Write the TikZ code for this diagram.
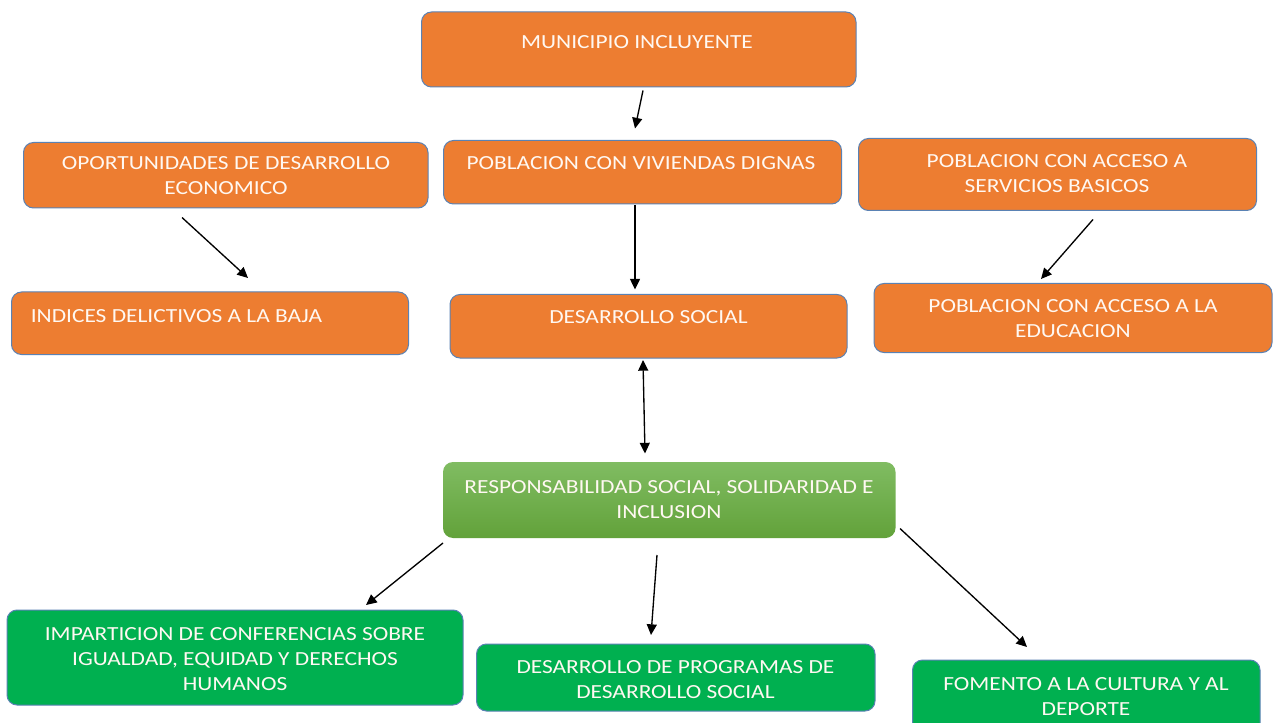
\documentclass[tikz,border=0pt]{standalone}
\usepackage{fontspec}
\setmainfont{Carlito}[FakeStretch=1.17]
\usetikzlibrary{arrows.meta,fit}
\definecolor{orng}{HTML}{ED7D31}
\definecolor{grn}{HTML}{00B050}
\definecolor{gtop}{HTML}{80BC62}
\definecolor{gbot}{HTML}{62A23A}
\definecolor{boxline}{HTML}{5A82B4}
\definecolor{txt}{HTML}{FFF8F2}
\tikzset{
  boxbase/.style={draw=boxline, line width=0.75pt, rounded corners=7.5pt, inner sep=0pt},
  obox/.style={boxbase, fill=orng},
  gbox/.style={boxbase, fill=grn},
  mbox/.style={rounded corners=7.5pt, inner sep=0pt, top color=gtop, bottom color=gbot, draw=none},
  lbl/.style={text=txt, font=\fontsize{15}{18.7}\selectfont, align=center, inner sep=0pt, anchor=north},
  arr/.style={-{Triangle[length=8pt,width=7.5pt]}, line width=1pt, black},
  darr/.style={{Triangle[length=8pt,width=7.5pt]}-{Triangle[length=8pt,width=7.5pt]}, line width=1pt, black}
}
\begin{document}
\begin{tikzpicture}[x=0.75pt,y=-0.75pt]
\clip (0,0) rectangle (1273,723);
\fill[white] (0,0) rectangle (1273,723);
% boxes
\node[obox, fit={(421.5,12)(856,87)}] (mun) {};
\node[obox, fit={(23.5,142.5)(428,208)}] (opo) {};
\node[obox, fit={(443.5,140.5)(841.5,204)}] (viv) {};
\node[obox, fit={(858.5,138.5)(1256.5,210.5)}] (ser) {};
\node[obox, fit={(11.5,292)(408.5,354.5)}] (ind) {};
\node[obox, fit={(450,294.5)(847,358)}] (des) {};
\node[obox, fit={(874,283.5)(1272,352.5)}] (edu) {};
\node[mbox, fit={(443,462)(895.5,538)}] (res) {};
\node[gbox, fit={(7,610)(463,705)}] (imp) {};
\node[gbox, fit={(476.5,644)(875,711)}] (pro) {};
\node[gbox, fit={(912.5,660)(1260,740)}] (fom) {};
% labels
\node[lbl] (mun-t) at (637,35) {MUNICIPIO INCLUYENTE};
\node[lbl] (opo-t) at (226,156.5) {OPORTUNIDADES DE DESARROLLO\\ECONOMICO};
\node[lbl] (viv-t) at (641,156.5) {POBLACION CON VIVIENDAS DIGNAS};
\node[lbl] (ser-t) at (1057,154) {POBLACION CON ACCESO A\\SERVICIOS BASICOS};
\node[lbl, anchor=north west] (ind-t) at (30.5,309) {INDICES DELICTIVOS A LA BAJA};
\node[lbl] (des-t) at (648.5,310.5) {DESARROLLO SOCIAL};
\node[lbl] (edu-t) at (1073,299) {POBLACION CON ACCESO A LA\\EDUCACION};
\node[lbl] (res-t) at (669,480) {RESPONSABILIDAD SOCIAL, SOLIDARIDAD E\\INCLUSION};
\node[lbl] (imp-t) at (235,627.5) {IMPARTICION DE CONFERENCIAS SOBRE\\IGUALDAD, EQUIDAD Y DERECHOS\\HUMANOS};
\node[lbl] (pro-t) at (675.5,660) {DESARROLLO DE PROGRAMAS DE\\DESARROLLO SOCIAL};
\node[lbl] (fom-t) at (1086,677.5) {FOMENTO A LA CULTURA Y AL\\DEPORTE};
% connector ends
\coordinate (a1s) at (643,90.5);  \coordinate (a1e) at (635,128.5);
\coordinate (a2s) at (182,217.5); \coordinate (a2e) at (248,278);
\coordinate (a3s) at (635,205);   \coordinate (a3e) at (635,289.5);
\coordinate (a4s) at (1093,219.5);\coordinate (a4e) at (1041,279);
\coordinate (a5s) at (643,360);   \coordinate (a5e) at (645,453.5);
\coordinate (a6s) at (443,543);   \coordinate (a6e) at (366,605);
\coordinate (a7s) at (657,555);   \coordinate (a7e) at (651,635);
\coordinate (a8s) at (900,528.5); \coordinate (a8e) at (1027,647);
% connectors
\draw[arr] (a1s) -- (a1e);
\draw[arr] (a2s) -- (a2e);
\draw[arr] (a3s) -- (a3e);
\draw[arr] (a4s) -- (a4e);
\draw[darr] (a5s) -- (a5e);
\draw[arr] (a6s) -- (a6e);
\draw[arr] (a7s) -- (a7e);
\draw[arr] (a8s) -- (a8e);
\end{tikzpicture}
\end{document}
